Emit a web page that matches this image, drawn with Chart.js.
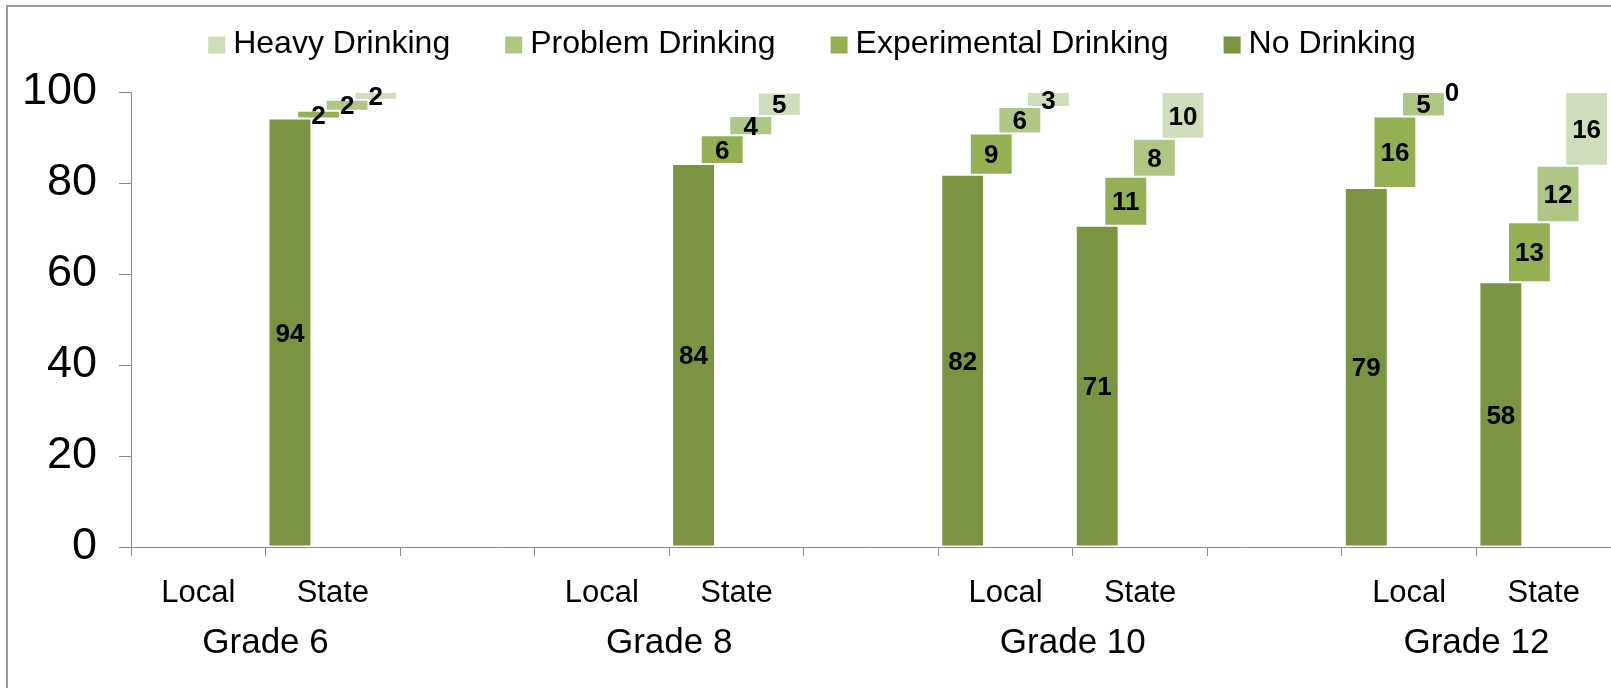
<!DOCTYPE html>
<html>
<head>
<meta charset="utf-8">
<script src="https://cdn.jsdelivr.net/npm/chart.js@4.4.1/dist/chart.umd.min.js"></script>
<style>
html, body { margin: 0; padding: 0; background: #ffffff; }
#wrap { position: relative; width: 1611px; height: 688px; overflow: hidden; }
canvas { display: block; }
</style>
</head>
<body>
<div id="wrap"><canvas id="c" width="1611" height="688"></canvas></div>
<script>
// ---------------- DATA ----------------
const categories = ["Local", "State", "", "Local", "State", "", "Local", "State", "", "Local", "State"];
const gradeLabels = ["Grade 6", "Grade 8", "Grade 10", "Grade 12"];
const yTickValues = [0, 20, 40, 60, 80, 100];

const seriesNames = ["No Drinking", "Experimental Drinking", "Problem Drinking", "Heavy Drinking"];
const noDrinking   = [null, 94.2, null, null, 84.2, null, 81.8, 70.6, null, 78.9, 58.2];
const experimental = [null,  1.7, null, null,  6.3, null,  9.1, 10.8, null, 15.7, 13.2];
const problem      = [null,  2.4, null, null,  4.2, null,  5.8,  8.3, null,  5.4, 12.4];
const heavy        = [null,  1.7, null, null,  5.2, null,  3.3, 10.3, null,  0.0, 16.2];

const seriesColors = ["#7A9442", "#94B053", "#AFC685", "#CFDDBA"];
// ---------------------------------------

const FONT = '"Liberation Sans", Arial, Helvetica, sans-serif';
Chart.defaults.font.family = FONT;

const seriesValues = [noDrinking, experimental, problem, heavy];

// cumulative floating ranges (waterfall steps)
const floating = seriesValues.map(() => []);
for (let i = 0; i < categories.length; i++) {
  let acc = 0;
  seriesValues.forEach((arr, s) => {
    const v = arr[i];
    if (v === null || v === undefined) { floating[s].push(null); return; }
    floating[s].push([acc, acc + v]);
    acc += v;
  });
}

// Grade label centres: boundary between the Local and State categories
const gradeCenters = [];
categories.forEach((c, i) => { if (c === "Local") gradeCenters.push(i + 1); });

const AXIS_COLOR = '#8a8a8a';

const frame = {
  id: 'frame',
  beforeDraw(chart) {
    const ctx = chart.ctx;
    ctx.save();
    ctx.fillStyle = '#ffffff';
    ctx.fillRect(0, 0, chart.width, chart.height);
    ctx.strokeStyle = '#9c9c9c';
    ctx.lineWidth = 2;
    ctx.strokeRect(7, 6, chart.width + 20, chart.height + 20);
    ctx.restore();
  }
};

const valueLabels = {
  id: 'valueLabels',
  afterDatasetsDraw(chart) {
    const ctx = chart.ctx;
    ctx.save();
    ctx.font = 'bold 26px ' + FONT;
    ctx.fillStyle = '#000000';
    ctx.textAlign = 'center';
    ctx.textBaseline = 'middle';
    chart.data.datasets.forEach((ds, di) => {
      const meta = chart.getDatasetMeta(di);
      meta.data.forEach((el, i) => {
        const v = seriesValues[di][i];
        if (v === null || v === undefined) return;
        const p = el.getProps(['x', 'y', 'base'], true);
        ctx.fillText(String(Math.round(v)), p.x, (p.y + p.base) / 2 + 2);
      });
    });
    ctx.restore();
  }
};

const customLegend = {
  id: 'customLegend',
  afterDraw(chart) {
    const ctx = chart.ctx;
    ctx.save();
    ctx.font = '32px ' + FONT;
    ctx.textBaseline = 'middle';
    ctx.textAlign = 'left';
    const box = 17, gapText = 8, gapItem = 55;
    const order = chart.data.datasets.map((d, i) => i).reverse();
    const widths = order.map(i => box + gapText + ctx.measureText(chart.data.datasets[i].label).width);
    const total = widths.reduce((a, b) => a + b, 0) + gapItem * (order.length - 1);
    let x = 812 - total / 2;
    const cy = 45;
    order.forEach((di, k) => {
      const ds = chart.data.datasets[di];
      ctx.fillStyle = ds.backgroundColor;
      ctx.fillRect(x, cy - box / 2, box, box);
      ctx.fillStyle = '#000000';
      ctx.fillText(ds.label, x + box + gapText, cy - 1);
      x += widths[k] + gapItem;
    });
    ctx.restore();
  }
};

const datasets = seriesNames.map((name, s) => ({
  label: name,
  data: floating[s],
  backgroundColor: seriesColors[s],
  borderColor: 'rgba(255,255,255,0.45)',
  borderWidth: 1,
  borderSkipped: false,
  categoryPercentage: 0.85,
  barPercentage: 1.5
}));

new Chart(document.getElementById('c').getContext('2d'), {
  type: 'bar',
  data: { labels: categories, datasets },
  options: {
    responsive: false,
    animation: false,
    devicePixelRatio: 1,
    layout: { padding: { top: 92, left: 0, right: 0, bottom: 20 } },
    plugins: { legend: { display: false }, tooltip: { enabled: false } },
    scales: {
      x: {
        type: 'category',
        offset: true,
        grid: { display: true, drawOnChartArea: false, drawTicks: true, tickLength: 9, color: AXIS_COLOR, offset: true },
        border: { display: true, color: AXIS_COLOR, width: 1 },
        ticks: { color: '#000000', font: { size: 31 }, padding: 19, maxRotation: 0, minRotation: 0, autoSkip: false },
        afterFit(s) { s.height = 65; }
      },
      x2: {
        type: 'linear',
        position: 'bottom',
        offset: false,
        min: 0,
        max: categories.length,
        grid: { display: false, drawTicks: false, offset: false },
        border: { display: false },
        ticks: {
          color: '#000000', font: { size: 35 }, padding: 10, maxRotation: 0, minRotation: 0, autoSkip: false,
          callback: (v, i) => gradeLabels[i]
        },
        afterBuildTicks(s) { s.ticks = gradeCenters.map(v => ({ value: v })); },
        afterFit(s) { s.height = 56; }
      },
      y: {
        min: 0,
        max: 100,
        grid: { display: true, drawOnChartArea: false, drawTicks: true, tickLength: 12, color: AXIS_COLOR },
        border: { display: true, color: AXIS_COLOR, width: 1 },
        ticks: { color: '#000000', font: { size: 45 }, padding: 22 },
        afterBuildTicks(s) { s.ticks = yTickValues.map(v => ({ value: v })); },
        afterFit(s) { s.width = 131; }
      }
    }
  },
  plugins: [frame, valueLabels, customLegend]
});
</script>
</body>
</html>
